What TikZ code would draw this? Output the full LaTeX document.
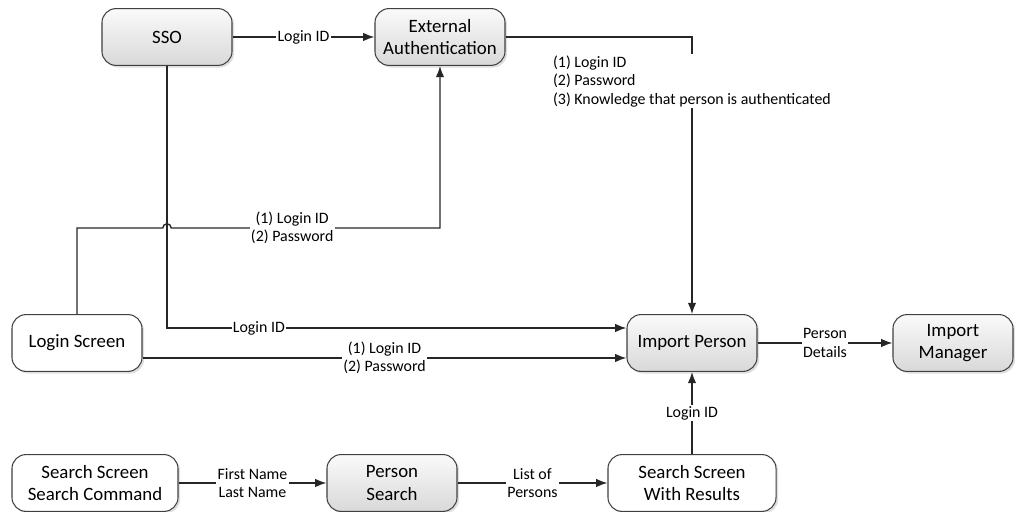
\documentclass[tikz,border=0pt]{standalone}
\usepackage{fontspec}
\setmainfont{Carlito}
\usetikzlibrary{arrows.meta,shadows,calc}

\begin{document}
\begin{tikzpicture}[
  x=0.025cm, y=0.025cm,
  box/.style={draw=black!75, line width=0.75pt, rounded corners=10pt, minimum width=3.25cm, minimum height=1.42cm, align=center, font=\fontsize{13.4}{16}\selectfont, fill=white, drop shadow={shadow xshift=1.5pt, shadow yshift=-1.5pt, opacity=0.25}},
  gbox/.style={box, top color=gray!4, bottom color=gray!30},
  flow/.style={-{Latex[length=8pt,width=6pt]}, draw=black!85, line width=1pt},
  lbl/.style={fill=white, inner sep=1pt, align=center, font=\fontsize{11.3}{13.2}\selectfont},
]
  \useasboundingbox (0,0) rectangle (1015,512);

  % Top row
  \node[gbox] (sso) at (167,475) {SSO};
  \node[gbox] (extauth) at (440,475) {External\\Authentication};

  % Middle row
  \node[box] (login) at (77,169) {Login Screen};
  \node[gbox] (import) at (692,169) {Import Person};
  \node[gbox, minimum width=3cm] (manager) at (953,169) {Import\\Manager};

  % Bottom row
  \node[box, minimum width=4.15cm] (searchcmd) at (95,29) {Search Screen\\Search Command};
  \node[gbox] (psearch) at (392,29) {Person\\Search};
  \node[box, minimum width=4.2cm] (results) at (692,29) {Search Screen\\With Results};

  % Line hop over the SSO line
  \coordinate (hop) at (167,284);

  % Arrows
  \draw[flow] (sso) -- node[lbl]{Login ID} (extauth);
  \draw[flow] (extauth) -| node[lbl, pos=0.58, align=left]{(1) Login ID\\(2) Password\\(3) Knowledge that person is authenticated} (import);
  \draw[flow] (login.north) |- ([xshift=-3pt]hop) arc[start angle=180, end angle=0, radius=3pt]
    -- node[lbl, pos=0.45]{(1) Login ID\\(2) Password} (extauth.south |- hop) -- (extauth.south);
  \draw[flow] (sso.south) |- node[lbl, pos=0.6]{Login ID} ([yshift=0.375cm]import.west);
  \draw[flow] ([yshift=-0.375cm]login.east) -- node[lbl]{(1) Login ID\\(2) Password} ([yshift=-0.375cm]import.west);
  \draw[flow] (import) -- node[lbl]{Person\\Details} (manager);
  \draw[flow] (searchcmd) -- node[lbl]{First Name\\Last Name} (psearch);
  \draw[flow] (psearch) -- node[lbl]{List of\\Persons} (results);
  \draw[flow] (results) -- node[lbl]{Login ID} (import);
\end{tikzpicture}
\end{document}
